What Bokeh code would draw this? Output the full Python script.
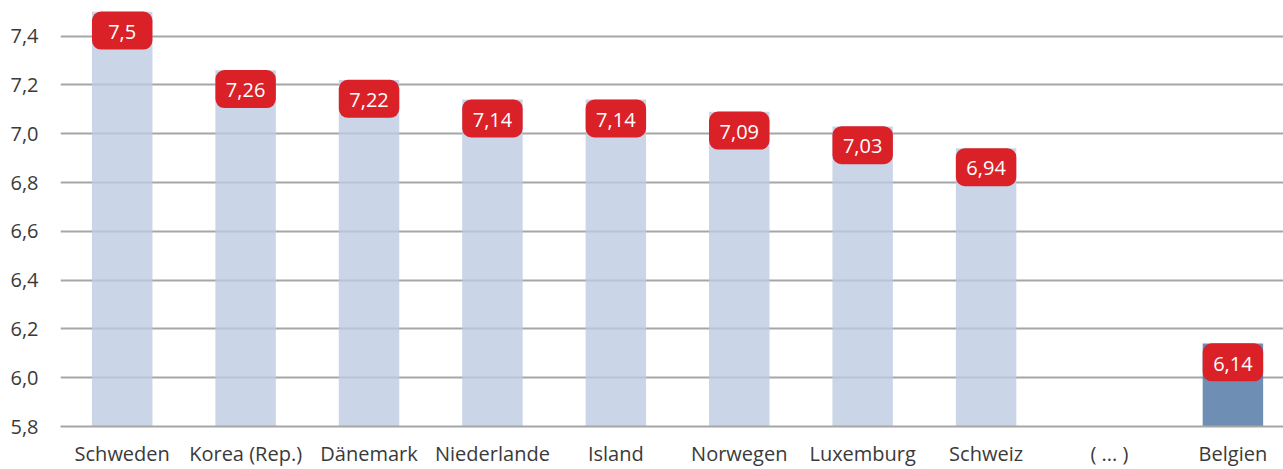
from bokeh.plotting import figure
from bokeh.models import Range1d, FixedTicker, CustomJSTickFormatter, ColumnDataSource
from bokeh.core.properties import value
from bokeh.embed import file_html
from bokeh.resources import INLINE

categories = ["Schweden", "Korea (Rep.)", "Dänemark", "Niederlande", "Island",
              "Norwegen", "Luxemburg", "Schweiz", "( ... )", "Belgien"]
values = [7.5, 7.26, 7.22, 7.14, 7.14, 7.09, 7.03, 6.94, None, 6.14]
highlight = [False, False, False, False, False, False, False, False, False, True]
y_ticks = [5.8, 6.0, 6.2, 6.4, 6.6, 6.8, 7.0, 7.2, 7.4]

FONT = "Open Sans"
W, H = 1283, 469
Y0, Y1 = 5.8, 7.546
BOTTOM = 39
frame_h = H - BOTTOM
px_per_unit = frame_h / (Y1 - Y0)
BOX_H = 38

xs, tops, colors, labels = [], [], [], []
for i, (v, h) in enumerate(zip(values, highlight)):
    if v is None:
        continue
    xs.append(i)
    tops.append(v)
    colors.append("#4a73a0" if h else "#bdcce2")
    labels.append(("%g" % v).replace(".", ","))

src = ColumnDataSource(dict(
    x=xs, top=tops, color=colors, label=labels,
    box_y=[t - (BOX_H / 2) / px_per_unit for t in tops],
))

p = figure(width=W, height=H, output_backend="svg", toolbar_location=None,
           x_range=Range1d(-0.5, 9.41), y_range=Range1d(Y0, Y1),
           min_border_left=60, min_border_right=0, min_border_top=0,
           min_border_bottom=BOTTOM)
p.outline_line_color = None
p.background_fill_color = "white"
p.border_fill_color = "white"

p.vbar(x="x", top="top", bottom=Y0, width=0.49, fill_color="color",
       fill_alpha=0.8, line_color=None, source=src)

p.rect(x="x", y="box_y", width=0.49, height=BOX_H, height_units="screen",
       fill_color="#da2128", line_color=None, border_radius=9, source=src)
p.text(x="x", y="top", text="label", y_offset=BOX_H / 2 + 1,
       text_align="center", text_baseline="middle",
       text_color="white", text_font=value(FONT), text_font_size="20px",
       source=src)

# axes
p.xaxis.ticker = FixedTicker(ticks=list(range(len(categories))))
p.xaxis.major_label_overrides = {i: c for i, c in enumerate(categories)}
p.xaxis.axis_line_color = "#a6a6a6"
p.xaxis.axis_line_width = 2
p.xaxis.major_tick_line_color = None
p.xaxis.minor_tick_line_color = None
p.xaxis.major_tick_out = 0
p.xaxis.major_tick_in = 0
p.xaxis.minor_tick_out = 0
p.xaxis.major_label_standoff = 13
p.xaxis.major_label_text_font = FONT
p.xaxis.major_label_text_font_size = "20px"
p.xaxis.major_label_text_line_height = 1.0
p.xaxis.major_label_text_color = "#3a3a3a"

p.yaxis.ticker = FixedTicker(ticks=y_ticks)
p.yaxis.formatter = CustomJSTickFormatter(code="return tick.toFixed(1).replace('.', ',');")
p.yaxis.axis_line_color = None
p.yaxis.major_tick_line_color = None
p.yaxis.minor_tick_line_color = None
p.yaxis.major_tick_out = 0
p.yaxis.major_tick_in = 0
p.yaxis.minor_tick_out = 0
p.yaxis.major_label_standoff = 22
p.yaxis.major_label_text_font = FONT
p.yaxis.major_label_text_font_size = "20px"
p.yaxis.major_label_text_color = "#3a3a3a"

p.xgrid.grid_line_color = None
p.ygrid.ticker = FixedTicker(ticks=y_ticks)
p.ygrid.grid_line_color = "#a6a6a6"
p.ygrid.grid_line_width = 2

open("out.html", "w").write(file_html(p, INLINE))
